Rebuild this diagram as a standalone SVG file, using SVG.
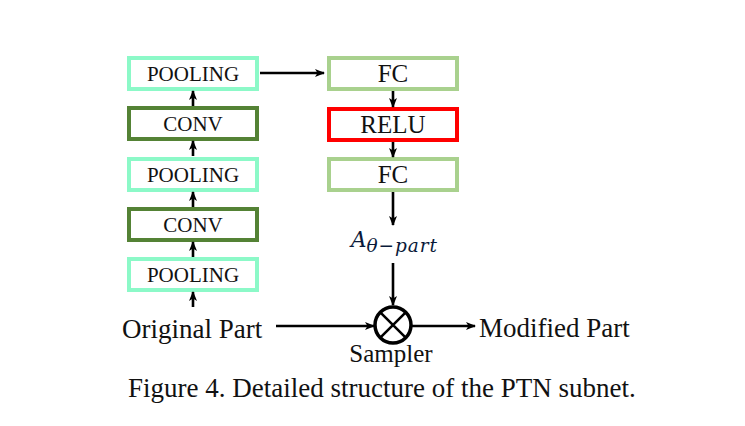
<svg xmlns="http://www.w3.org/2000/svg" width="745" height="426" viewBox="0 0 745 426">
<style>
.box{fill:#fff;stroke-width:4}
.pool{stroke:#8cf9c8}
.conv{stroke:#548235}
.fc{stroke:#a9d18e}
.relu{stroke:#ff0000}
.lbl{font-family:"Liberation Serif",serif;fill:#111;text-anchor:middle}
.s{font-size:21px}
.b{font-size:25px}
.big{font-family:"Liberation Serif",serif;fill:#111;font-size:27px}
.ln{stroke:#000;stroke-width:2.6;fill:none}
</style>
<defs>
<marker id="ah" markerWidth="10" markerHeight="10" refX="9" refY="5" orient="auto" markerUnits="userSpaceOnUse">
<path d="M0,1 L10,5 L0,9 L2.5,5 z" fill="#000"/>
</marker>
</defs>
<rect width="745" height="426" fill="#fff"/>
<g id="pool1"><rect class="box pool" x="129" y="58" width="128" height="31"/><text class="lbl s" x="193" y="81">POOLING</text></g>
<g id="conv1"><rect class="box conv" x="129" y="108" width="128" height="31"/><text class="lbl s" x="193" y="131">CONV</text></g>
<g id="pool2"><rect class="box pool" x="129" y="159" width="128" height="31"/><text class="lbl s" x="193" y="182">POOLING</text></g>
<g id="conv2"><rect class="box conv" x="129" y="209" width="128" height="31"/><text class="lbl s" x="193" y="232">CONV</text></g>
<g id="pool3"><rect class="box pool" x="129" y="259" width="128" height="31"/><text class="lbl s" x="193" y="282">POOLING</text></g>
<g id="fc1"><rect class="box fc" x="329" y="58" width="128" height="31"/><text class="lbl b" x="393" y="82">FC</text></g>
<g id="relu"><rect class="box relu" x="329" y="109" width="128" height="31"/><text class="lbl b" x="393" y="133">RELU</text></g>
<g id="fc2"><rect class="box fc" x="329" y="159" width="128" height="31"/><text class="lbl b" x="393" y="183">FC</text></g>
<g id="atheta"><text x="351" y="247" font-family="'DejaVu Serif',serif" font-style="italic" fill="#0a1a3a" font-size="21.5px">A<tspan font-size="18.5px" dy="5" letter-spacing="0.9">θ−part</tspan></text></g>
<g id="sampler"><circle cx="393" cy="325" r="18" fill="#fff" stroke="#000" stroke-width="3.5"/><path class="ln" d="M380.3,312.3 L405.7,337.7 M405.7,312.3 L380.3,337.7" stroke-width="3"/><text class="lbl" x="391" y="362" font-size="25px">Sampler</text></g>
<g id="orig"><text class="big" x="122" y="338">Original Part</text></g>
<g id="mod"><text class="big" x="479" y="337" font-size="26.5px">Modified Part</text></g>
<g id="connectors">
<path class="ln" d="M193,307 V292" marker-end="url(#ah)"/>
<path class="ln" d="M193,257 V242" marker-end="url(#ah)"/>
<path class="ln" d="M193,207 V192" marker-end="url(#ah)"/>
<path class="ln" d="M193,156 V141" marker-end="url(#ah)"/>
<path class="ln" d="M193,106 V91" marker-end="url(#ah)"/>
<path class="ln" d="M260,73 H324" marker-end="url(#ah)"/>
<path class="ln" d="M393,91 V107" marker-end="url(#ah)"/>
<path class="ln" d="M393,142 V157" marker-end="url(#ah)"/>
<path class="ln" d="M393,192 V225" marker-end="url(#ah)"/>
<path class="ln" d="M393,263 V305" marker-end="url(#ah)"/>
<path class="ln" d="M276,326 H374" marker-end="url(#ah)"/>
<path class="ln" d="M411,326 H475" marker-end="url(#ah)"/>
</g>
<text class="big" x="128" y="397" font-size="25px">Figure 4. Detailed structure of the PTN subnet.</text>
</svg>
